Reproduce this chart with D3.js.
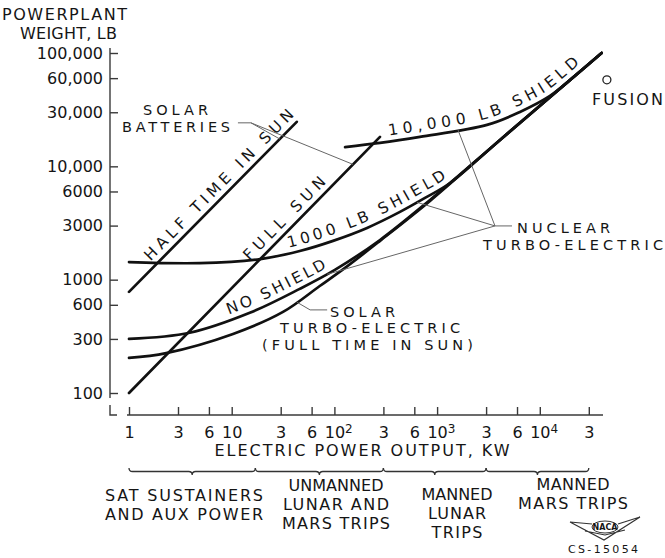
<!DOCTYPE html>
<html><head><meta charset="utf-8">
<script src="https://cdn.jsdelivr.net/npm/d3@7"></script>
<style>
body{margin:0;background:#fff}
svg{display:block;background:#fff}
text{font-family:"DejaVu Sans",sans-serif;fill:#151515}
</style>
</head><body>
<svg id="c" width="665" height="558"></svg>
<script>
// ---------- data ----------
const xTickValues=[1,3,6,10,30,60,100,300,600,1000,3000,6000,10000,30000];
const xTickLabels=["1","3","6","10","3","6","10^2","3","6","10^3","3","6","10^4","3"];
const yTickValues=[100,300,600,1000,3000,6000,10000,30000,60000,100000];
const yTickLabels=["100","300","600","1000","3000","6000","10,000","30,000","60,000","100,000"];

const halfSunP=[1,43], halfSunW=[780,24700];
const fullSunP=[1,278], fullSunW=[100,18200];
const noShieldP=[1,3.9,15,46,101,278,853,4100,40000];
const noShieldW=[300,340,510,830,1220,2240,5050,17100,100000];
const solarTurboP=[1,2.3,10.3,31.6,72,127,278,853,4100,40000];
const solarTurboW=[204,225,332,519,879,1270,2200,4950,17100,100000];
const shield1000P=[1,4.9,19,46,97,208,435,762,1336,4100,40000];
const shield1000W=[1430,1400,1520,1790,2200,2860,3960,5260,7130,17100,100000];
const shield10000P=[127,278,681,3060,6410,12560,22000,40000];
const shield10000W=[14800,16100,18200,23200,30200,41800,62800,100000];
const fusionP=[45000], fusionW=[58000];

const bandEdges=[1,17,300,3000,30000];
const bandLabels=[["SAT SUSTAINERS","AND AUX POWER"],["UNMANNED","LUNAR AND","MARS TRIPS"],["MANNED","LUNAR","TRIPS"],["MANNED","MARS TRIPS"]];

// leader lines (data units)
const batteryLeaderA=[[11.5,24200],[15.4,24200],[29.5,17400]];
const batteryLeaderB=[[15.4,24200],[152,10400]];
const solarLeader=[[43,634],[58,541],[85,541]];
const nuclearLeaders=[
  [[1600,20900],[3660,2980]],
  [[637,4810],[3660,2980]],
  [[85,1115],[3660,2980]],
  [[3660,2980],[5360,2980]]
];

// ---------- setup ----------
const svg=d3.select('#c');
const x=d3.scaleLog().domain([1,30000]).range([129,588.8]);
const y=d3.scaleLog().domain([100,100000]).range([393,53]);
const line=d3.line().x(d=>x(d[0])).y(d=>y(d[1])).curve(d3.curveCatmullRom.alpha(0.5));
const straight=d3.line().x(d=>x(d[0])).y(d=>y(d[1]));
const zip=(P,W)=>P.map((p,i)=>[p,W[i]]);
const defs=svg.append('defs');

function txt(xp,yp,s,opts={}){
  const t=svg.append('text').attr('x',xp).attr('y',yp).text(s)
    .attr('font-size',opts.size||16).attr('text-anchor',opts.anchor||'start');
  if(opts.len){t.attr('textLength',opts.len).attr('lengthAdjust','spacing');}
  return t;
}

// ---------- axes ----------
const AXC='#3a3a3a';
const yAxis=d3.axisLeft(y).tickValues(yTickValues).tickFormat((d,i)=>yTickLabels[i])
  .tickSizeInner(-8).tickSizeOuter(0).tickPadding(7);
const gy=svg.append('g').attr('transform','translate(110,0)').call(yAxis);
gy.select('.domain').remove();
gy.selectAll('line').attr('stroke',AXC).attr('stroke-width',1.4);
gy.selectAll('text').attr('font-size',16).attr('font-family','"DejaVu Sans",sans-serif').attr('fill','#151515');
svg.append('line').attr('x1',110).attr('x2',110).attr('y1',48).attr('y2',398).attr('stroke',AXC).attr('stroke-width',1.4);
svg.append('path').attr('d','M110,405V415H117').attr('fill','none').attr('stroke',AXC).attr('stroke-width',1.4);

const xAxis=d3.axisBottom(x).tickValues(xTickValues).tickFormat((d,i)=>xTickLabels[i])
  .tickSizeInner(-8).tickSizeOuter(0).tickPadding(11.6);
const gx=svg.append('g').attr('transform','translate(0,415)').call(xAxis);
gx.select('.domain').remove();
gx.selectAll('line').attr('stroke',AXC).attr('stroke-width',1.4);
gx.selectAll('text').attr('font-size',16).attr('font-family','"DejaVu Sans",sans-serif').attr('fill','#151515')
  .each(function(d,i){
    const lab=xTickLabels[i];
    if(lab.indexOf('^')>=0){
      const [b,s]=lab.split('^');
      const el=d3.select(this); el.text('');
      const tb=el.append('tspan').text(b);
      el.append('tspan').attr('dy','-0.45em').attr('font-size','12px').text(s);
      const w=tb.node().getComputedTextLength();
      el.attr('text-anchor','start').attr('x',-w/2);
    }
  });
svg.append('line').attr('x1',127).attr('x2',603).attr('y1',415).attr('y2',415).attr('stroke',AXC).attr('stroke-width',1.4);

txt(2,20,'POWERPLANT',{len:125});
txt(20,39,'WEIGHT, LB',{len:97});
txt(362,456,'ELECTRIC POWER OUTPUT, KW',{anchor:'middle',len:295});

// ---------- curves ----------
const CURVE='#111';
function drawCurve(P,W,gen){
  return svg.append('path').attr('d',(gen||line)(zip(P,W))).attr('fill','none')
    .attr('stroke',CURVE).attr('stroke-width',2.7).attr('stroke-linecap','round');
}
drawCurve(halfSunP,halfSunW,straight);
drawCurve(fullSunP,fullSunW,straight);
drawCurve(noShieldP,noShieldW);
drawCurve(solarTurboP,solarTurboW);
drawCurve(shield1000P,shield1000W);
drawCurve(shield10000P,shield10000W);

let pid=0;
function pathLabel(P,W,gen,s,startX,len,dy){
  const id='lp'+(pid++);
  const p=defs.append('path').attr('id',id).attr('d',gen(zip(P,W)));
  const node=p.node();
  const L=node.getTotalLength();
  let lo=0,hi=L;
  while(hi-lo>0.3){const m=(lo+hi)/2; if(node.getPointAtLength(m).x<startX) lo=m; else hi=m;}
  const t=svg.append('text').attr('font-size',15.5).attr('dy',dy);
  t.append('textPath').attr('href','#'+id).attr('startOffset',lo)
    .attr('textLength',len).attr('lengthAdjust','spacing').text(s);
}
pathLabel(halfSunP,halfSunW,straight,'HALF TIME IN SUN',155,205,-6);
pathLabel(fullSunP,fullSunW,straight,'FULL SUN',254,110,-6);
pathLabel(shield1000P,shield1000W,line,'1000 LB SHIELD',290,176,-6);
pathLabel(shield10000P,shield10000W,line,'10,000 LB SHIELD',390,212,-6);
pathLabel(noShieldP,noShieldW,line,'NO SHIELD',231,110,-6);

svg.append('circle').attr('cx',x(fusionP[0])).attr('cy',y(fusionW[0])).attr('r',4)
  .attr('fill','none').attr('stroke','#222').attr('stroke-width',1.3);
txt(592,105,'FUSION',{len:71});

// ---------- leaders ----------
function leader(pts){
  svg.append('path').attr('d',straight(pts)).attr('fill','none').attr('stroke','#666').attr('stroke-width',1);
}
leader(batteryLeaderA); leader(batteryLeaderB); leader(solarLeader);
nuclearLeaders.forEach(leader);

txt(143,115,'SOLAR',{len:65,size:14.5});
txt(122,132,'BATTERIES',{len:108,size:14.5});
txt(330,317,'SOLAR',{len:65,size:14.5});
txt(280,333,'TURBO-ELECTRIC',{len:180,size:14.5});
txt(262,350,'(FULL TIME IN SUN)',{len:211,size:14.5});
txt(517,233,'NUCLEAR',{len:93,size:14.5});
txt(483,250,'TURBO-ELECTRIC',{len:180,size:14.5});

// ---------- braces ----------
function brace(x1,x2,yt){
  const m=(x1+x2)/2, r=3.5;
  const d=`M${x1},${yt} q0,${r} ${r},${r} H${m-r} q${r},0 ${r},${r} q0,${-r} ${r},${-r} H${x2-r} q${r},0 ${r},${-r}`;
  svg.append('path').attr('d',d).attr('fill','none').attr('stroke','#333').attr('stroke-width',1.3);
}
for(let i=0;i<bandEdges.length-1;i++) brace(x(bandEdges[i]),x(bandEdges[i+1]),468);

const bandPos=[{cx:184,y0:501,widths:[158,158]},{cx:336,y0:491,widths:[95,106,108]},{cx:457,y0:500,widths:[71,58,51]},{cx:573,y0:490,widths:[73,110]}];
bandLabels.forEach((lines,i)=>{
  const bp=bandPos[i];
  lines.forEach((s,j)=>{
    txt(bp.cx,bp.y0+j*19,s,{anchor:'middle',len:bp.widths[j]});
  });
});

// NACA emblem
const ng=svg.append('g').attr('transform','translate(605,529)');
ng.append('path').attr('d','M-35,-7 L-1,11 L35,-12 M-35,-7 L-13,-5 M35,-12 L13,-5 M-20,2 L0,6 L20,1')
  .attr('fill','none').attr('stroke','#333').attr('stroke-width',1.2);
ng.append('ellipse').attr('cx',0).attr('cy',-2).attr('rx',13).attr('ry',6).attr('fill','#fff').attr('stroke','#333').attr('stroke-width',1);
ng.append('text').attr('x',0).attr('y',1).attr('text-anchor','middle').attr('font-size',8).attr('font-weight','bold').text('NACA');
txt(603,553,'CS-15054',{anchor:'middle',size:11,len:70});
</script>
</body></html>
